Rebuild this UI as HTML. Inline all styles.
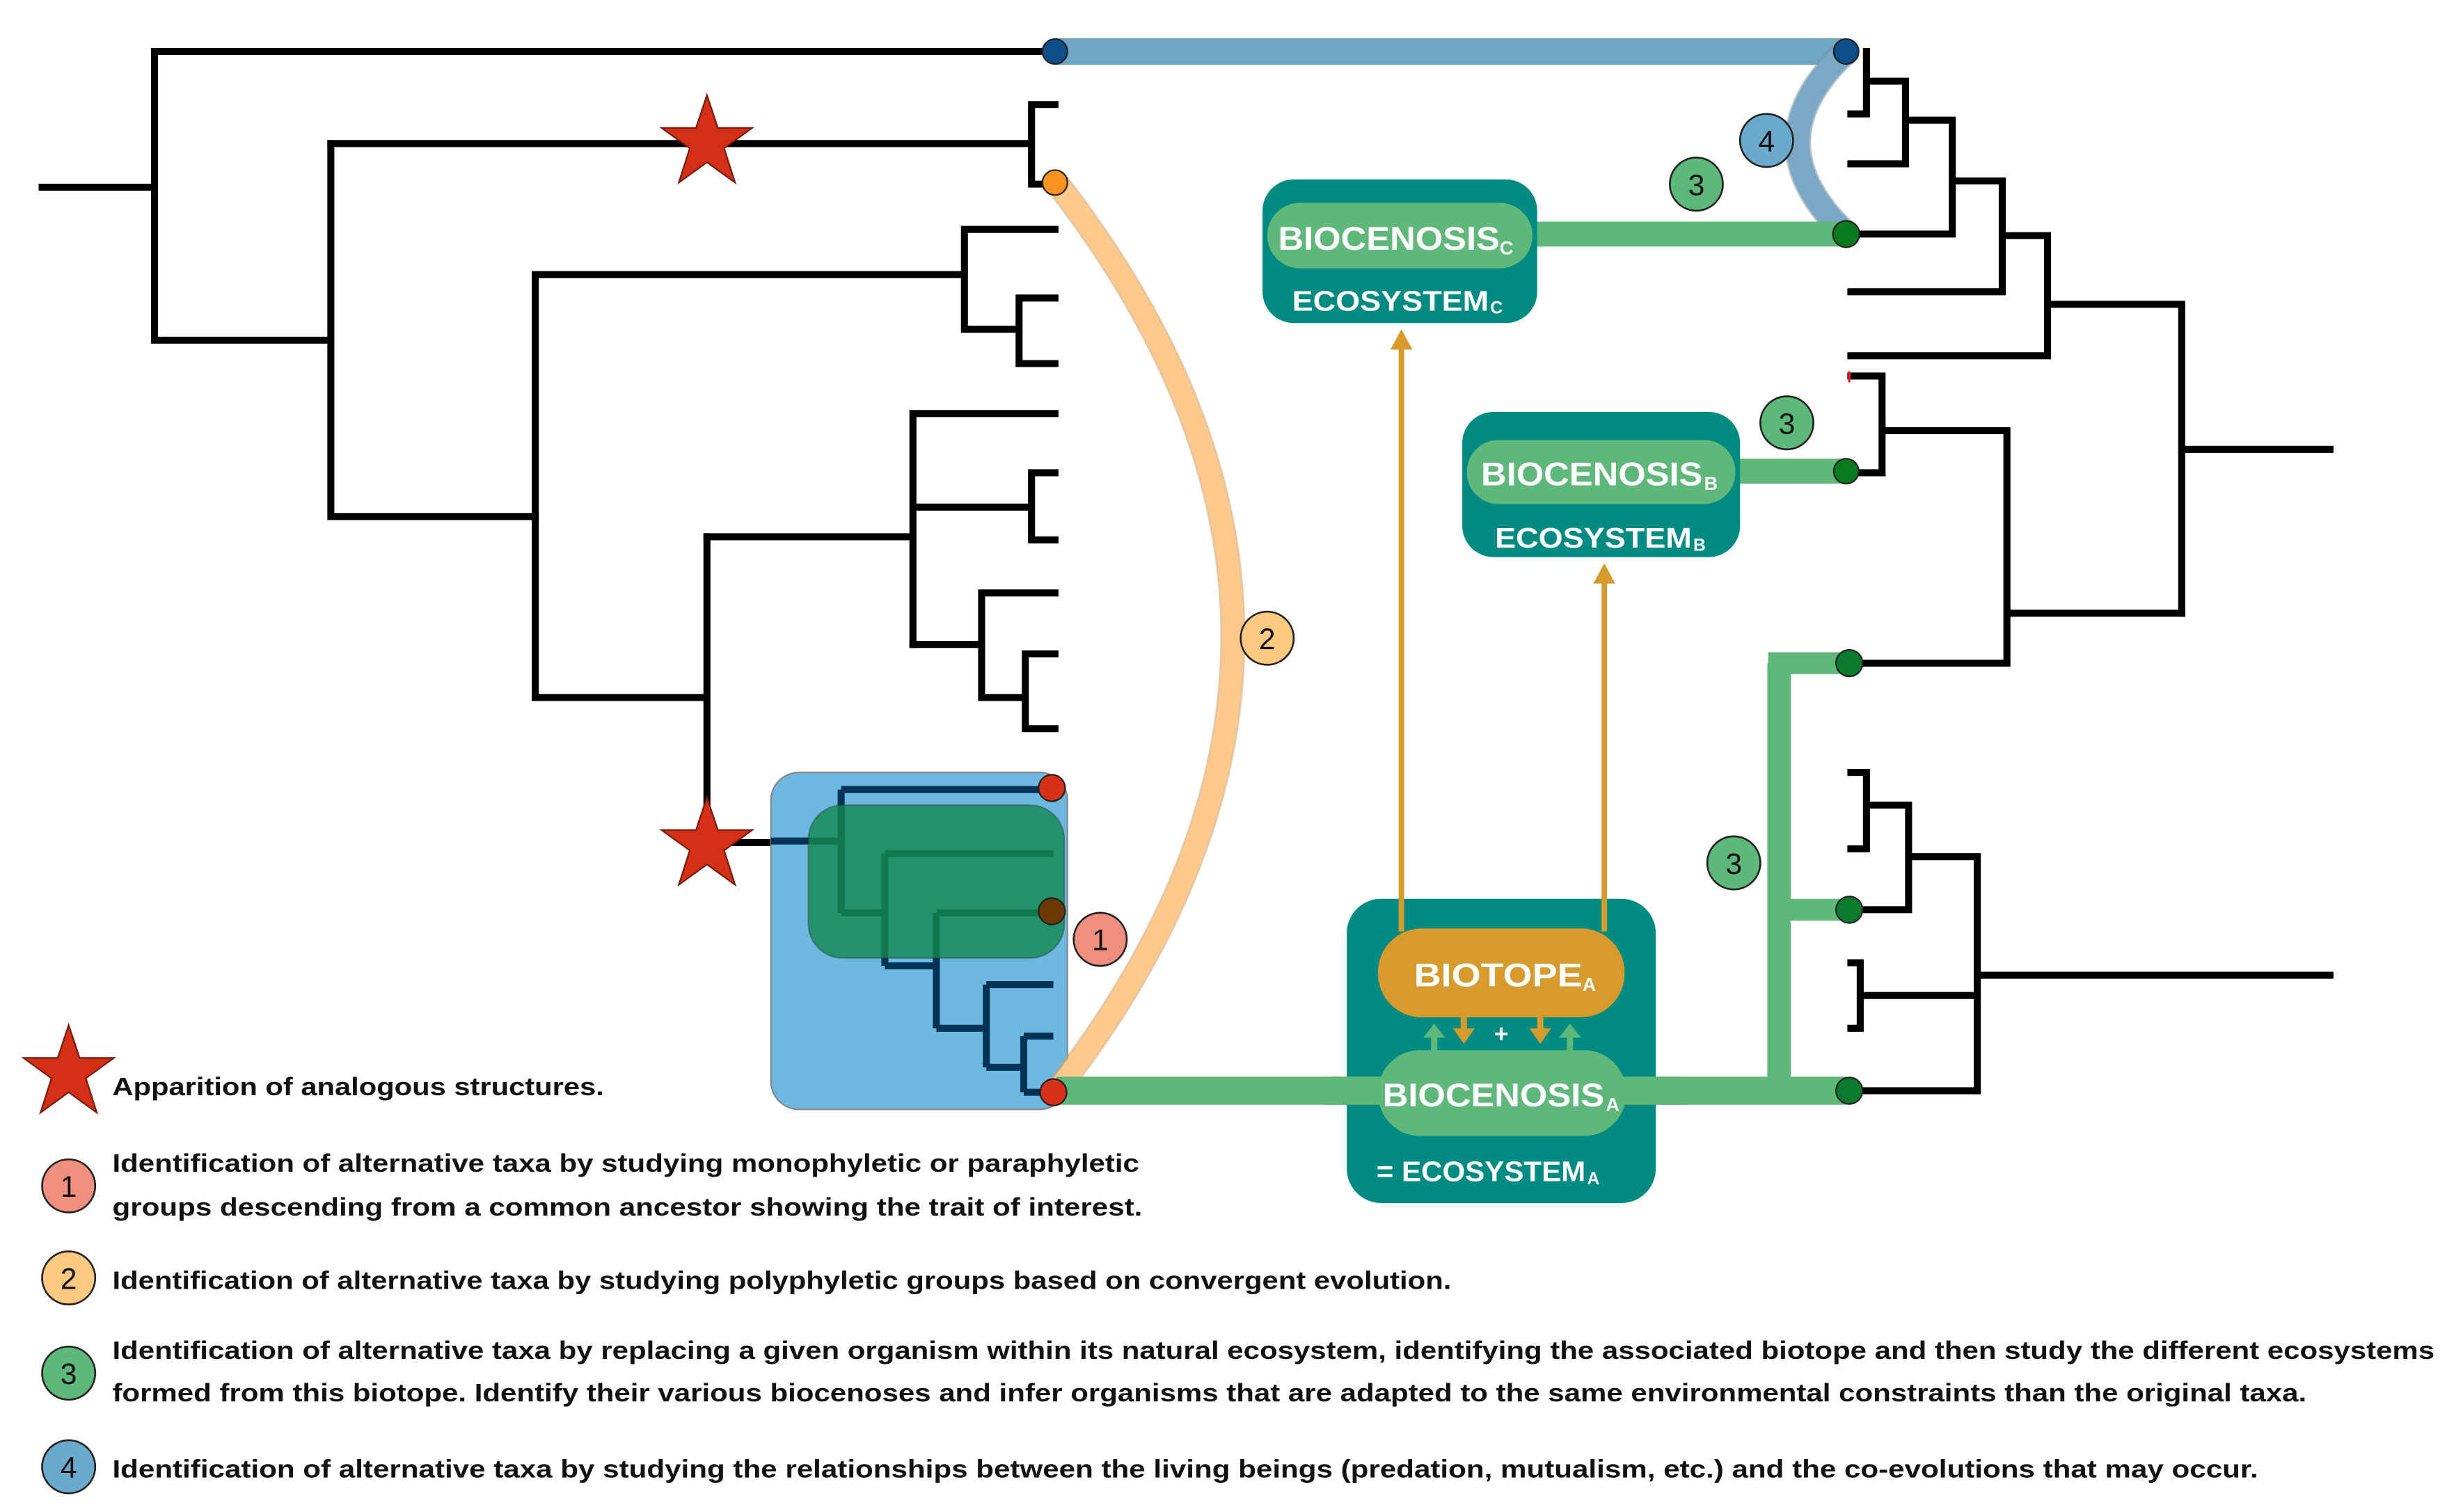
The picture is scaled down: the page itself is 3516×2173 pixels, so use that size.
<!DOCTYPE html>
<html><head><meta charset="utf-8">
<style>
html,body{margin:0;padding:0;background:#fff;}
svg{display:block;}
text{font-family:"Liberation Sans",Arial,sans-serif;font-weight:bold;}
text.n{font-weight:normal;}
</style></head>
<body>
<svg width="3516" height="2173" viewBox="0 0 1568 969" preserveAspectRatio="none" xmlns="http://www.w3.org/2000/svg">
<rect width="1568" height="969" fill="#fff"/>

<!-- LEFT TREE -->
<g stroke="#000" stroke-width="4.5" fill="none" stroke-linecap="square">
<path d="M27,120H99 M99,33V218 M99,33H676 M99,218H212 M212,92V331 M212,331H343"/>
<path d="M212,92H661 M661,67V118 M661,67H676 M661,118H676"/>
<path d="M343,176V447 M343,176H618 M618,147V211 M618,147H676 M618,211H653 M653,191V233 M653,191H676 M653,233H676"/>
<path d="M343,447H453 M453,344V540 M453,540H494"/>
<path d="M453,344H585 M585,265V413 M585,265H676 M585,325H661 M661,303V346 M661,303H676 M661,346H676"/>
<path d="M585,413H629 M629,380V447 M629,380H676 M629,447H657 M657,419V467 M657,419H676 M657,467H676"/>
</g>

<!-- Blue box -->
<rect x="494" y="495" width="190" height="216" rx="18" fill="#6cb8e0" stroke="#888" stroke-width="1"/>
<g stroke="#003355" stroke-width="4.5" fill="none">
<path d="M494,539H539 M539,506V585 M539,506H674 M539,585H567 M567,547V619 M567,547H675 M567,619H600 M600,585V659 M600,585H674 M600,659H632 M632,631V684 M632,631H675 M632,684H656 M656,664V700 M656,664H675 M656,700H674"/>
</g>
<rect x="518" y="516" width="164" height="98" rx="22" fill="#13894f" fill-opacity="0.8" stroke="#333" stroke-opacity="0.4" stroke-width="1"/>

<!-- Orange arc -->
<path d="M677,117 Q903,408 677,699" stroke="#d9a060" stroke-width="16" fill="none" stroke-opacity="0.6"/>
<path d="M677,117 Q903,408 677,699" stroke="#fec98a" stroke-width="13" fill="none"/>

<!-- Blue bar & arc -->
<line x1="676" y1="33" x2="1183" y2="33" stroke="#6fa6c4" stroke-width="17"/>
<path d="M1183,33 Q1121,91 1183,150" stroke="#7a8a99" stroke-width="17" fill="none" stroke-opacity="0.5"/>
<path d="M1183,33 Q1121,91 1183,150" stroke="#7aa9c6" stroke-width="15" fill="none"/>

<!-- Green connectors -->
<g stroke="#5fb87a" fill="none">
<line x1="677" y1="699" x2="1183" y2="699" stroke-width="18"/>
<line x1="1140" y1="425" x2="1140" y2="699" stroke-width="15"/>
<line x1="1133" y1="425" x2="1183" y2="425" stroke-width="14"/>
<line x1="1140" y1="583" x2="1183" y2="583" stroke-width="14"/>
<line x1="975" y1="150" x2="1183" y2="150" stroke-width="16"/>
<line x1="1110" y1="302" x2="1183" y2="302" stroke-width="16"/>
</g>

<!-- RIGHT TREE -->
<g stroke="#000" stroke-width="4.5" fill="none" stroke-linecap="square">
<path d="M1196,33V73 M1186,73H1196 M1196,52H1221 M1221,52V105 M1186,105H1221 M1221,77H1251 M1251,77V150 M1183,150H1251"/>
<path d="M1251,116H1283 M1283,116V187 M1186,187H1283 M1283,151H1312 M1312,151V228 M1186,228H1312 M1312,195H1398 M1398,195V393 M1398,288H1493"/>
<path d="M1186,241H1206 M1206,241V303 M1183,303H1206 M1206,276H1286 M1286,276V425 M1286,393H1398 M1183,425H1286"/>
<path d="M1186,495H1196 M1196,495V544 M1186,544H1196 M1196,516H1223 M1223,516V583 M1183,583H1223 M1223,549H1267 M1267,549V699 M1267,625H1493"/>
<path d="M1186,617H1192 M1192,617V659 M1186,659H1192 M1192,638H1267 M1183,699H1267"/>
</g>
<line x1="1185" y1="238" x2="1185" y2="245" stroke="#e22" stroke-width="1.5"/>

<!-- Dots -->
<g stroke="#222" stroke-width="1">
<circle cx="676" cy="33" r="8" fill="#0d4f8a"/>
<circle cx="1183" cy="33" r="8" fill="#0d4f8a"/>
<circle cx="1183" cy="150" r="8.5" fill="#0a7a1f"/>
<circle cx="1183" cy="302" r="8" fill="#0a7a1f"/>
<circle cx="1185" cy="425" r="8.5" fill="#0a7a2f"/>
<circle cx="1185" cy="583" r="8.5" fill="#0a7a2f"/>
<circle cx="1185" cy="699" r="8.5" fill="#0a7a2f"/>
<circle cx="676" cy="117" r="8" fill="#f7931e"/>
<circle cx="674" cy="505" r="8.5" fill="#d9301a"/>
<circle cx="674" cy="584" r="8.5" fill="#6a3a00"/>
<circle cx="675" cy="700" r="8.5" fill="#d9301a"/>
</g>

<!-- Stars -->
<g fill="#d33017" stroke="#7a1a0a" stroke-width="1">
<polygon points="453,61 460,82 482,82 464,95 471,117 453,104 435,117 442,95 424,82 446,82"/>
<polygon points="453,511 460,532 482,532 464,545 471,567 453,554 435,567 442,545 424,532 446,532"/>
<polygon points="44,657 51,678 73,678 55,691 62,713 44,700 26,713 33,691 15,678 37,678"/>
</g>

<!-- Ecosystem C -->
<rect x="809" y="115" width="176" height="92" rx="20" fill="#008b82"/>
<rect x="812" y="130" width="170" height="42" rx="21" fill="#5fb87a"/>
<text x="819" y="160" font-size="21" fill="#fff" textLength="142" lengthAdjust="spacingAndGlyphs">BIOCENOSIS</text>
<text x="961" y="163" font-size="12" fill="#fff">C</text>
<text x="828" y="199" font-size="18" fill="#fff" textLength="126" lengthAdjust="spacingAndGlyphs">ECOSYSTEM</text>
<text x="955" y="201" font-size="11" fill="#fff">C</text>

<!-- Ecosystem B -->
<rect x="937" y="264" width="178" height="93" rx="20" fill="#008b82"/>
<rect x="940" y="282" width="172" height="41" rx="20" fill="#5fb87a"/>
<text x="949" y="311" font-size="21" fill="#fff" textLength="142" lengthAdjust="spacingAndGlyphs">BIOCENOSIS</text>
<text x="1092" y="314" font-size="12" fill="#fff">B</text>
<text x="958" y="351" font-size="18" fill="#fff" textLength="126" lengthAdjust="spacingAndGlyphs">ECOSYSTEM</text>
<text x="1085" y="353" font-size="11" fill="#fff">B</text>

<!-- Ecosystem A -->
<rect x="863" y="576" width="198" height="195" rx="22" fill="#008b82"/>
<line x1="850" y1="699" x2="1080" y2="699" stroke="#5fb87a" stroke-width="18"/>
<rect x="883" y="595" width="158" height="57" rx="28" fill="#d69a2d"/>
<rect x="883" y="673" width="159" height="55" rx="27" fill="#5fb87a"/>
<text x="906" y="632" font-size="21" fill="#fff" textLength="108" lengthAdjust="spacingAndGlyphs">BIOTOPE</text>
<text x="1014" y="635" font-size="12" fill="#fff">A</text>
<text x="886" y="709" font-size="21" fill="#fff" textLength="142" lengthAdjust="spacingAndGlyphs">BIOCENOSIS</text>
<text x="1029" y="712" font-size="12" fill="#fff">A</text>
<text x="882" y="757" font-size="18" fill="#fff" textLength="134" lengthAdjust="spacingAndGlyphs">= ECOSYSTEM</text>
<text x="1017" y="759" font-size="11" fill="#fff">A</text>
<text x="962" y="668" font-size="16" fill="#fff" text-anchor="middle">+</text>
<g>
<rect x="917" y="664" width="4" height="10" fill="#5fb87a"/><polygon points="912,665 926,665 919,656" fill="#5fb87a"/>
<rect x="1004" y="664" width="4" height="10" fill="#5fb87a"/><polygon points="999,665 1013,665 1006,656" fill="#5fb87a"/>
<rect x="936" y="652" width="4" height="8" fill="#d69a2d"/><polygon points="931,659 945,659 938,669" fill="#d69a2d"/>
<rect x="985" y="652" width="4" height="8" fill="#d69a2d"/><polygon points="980,659 994,659 987,669" fill="#d69a2d"/>
</g>

<!-- Orange up arrows -->
<g stroke="#d69a2d" stroke-width="3.5">
<line x1="898" y1="597" x2="898" y2="222"/>
<line x1="1028" y1="597" x2="1028" y2="372"/>
</g>
<polygon points="891,224 905,224 898,211" fill="#d69a2d"/>
<polygon points="1021,374 1035,374 1028,361" fill="#d69a2d"/>

<!-- Numbered circles -->
<g stroke="#222" stroke-width="1.2">
<circle cx="705" cy="602" r="17" fill="#f08f80"/>
<circle cx="812" cy="409" r="17" fill="#fcc97e"/>
<circle cx="1087" cy="118" r="17" fill="#5db979"/>
<circle cx="1145" cy="271" r="17" fill="#5db979"/>
<circle cx="1111" cy="553" r="17" fill="#5db979"/>
<circle cx="1132" cy="90" r="17" fill="#6aa9cc"/>
<circle cx="44" cy="760" r="17" fill="#f08f80"/>
<circle cx="44" cy="819" r="17" fill="#fcc97e"/>
<circle cx="44" cy="880" r="17" fill="#5db979"/>
<circle cx="44" cy="940" r="17" fill="#6aa9cc"/>
</g>
<g font-size="19" fill="#111" text-anchor="middle">
<text class="n" x="705" y="609">1</text>
<text class="n" x="812" y="416">2</text>
<text class="n" x="1087" y="125">3</text>
<text class="n" x="1145" y="278">3</text>
<text class="n" x="1111" y="560">3</text>
<text class="n" x="1132" y="97">4</text>
<text class="n" x="44" y="767">1</text>
<text class="n" x="44" y="826">2</text>
<text class="n" x="44" y="887">3</text>
<text class="n" x="44" y="947">4</text>
</g>

<!-- Legend text -->
<g font-size="16" fill="#111">
<text x="72" y="702" textLength="315" lengthAdjust="spacingAndGlyphs">Apparition of analogous structures.</text>
<text x="72" y="751" textLength="658" lengthAdjust="spacingAndGlyphs">Identification of alternative taxa by studying monophyletic or paraphyletic</text>
<text x="72" y="779" textLength="660" lengthAdjust="spacingAndGlyphs">groups descending from a common ancestor showing the trait of interest.</text>
<text x="72" y="826" textLength="858" lengthAdjust="spacingAndGlyphs">Identification of alternative taxa by studying polyphyletic groups based on convergent evolution.</text>
<text x="72" y="871" textLength="1488" lengthAdjust="spacingAndGlyphs">Identification of alternative taxa by replacing a given organism within its natural ecosystem, identifying the associated biotope and then study the different ecosystems</text>
<text x="72" y="898" textLength="1406" lengthAdjust="spacingAndGlyphs">formed from this biotope. Identify their various biocenoses and infer organisms that are adapted to the same environmental constraints than the original taxa.</text>
<text x="72" y="947" textLength="1375" lengthAdjust="spacingAndGlyphs">Identification of alternative taxa by studying the relationships between the living beings (predation, mutualism, etc.)  and the co-evolutions that may occur.</text>
</g>
</svg>
</body></html>
